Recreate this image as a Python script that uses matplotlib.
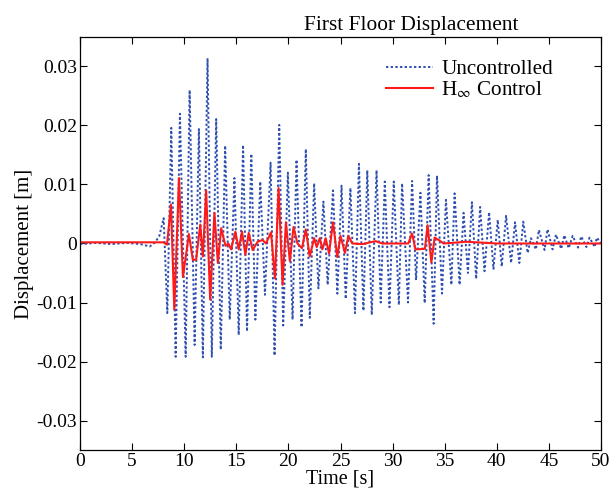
import matplotlib
matplotlib.use("Agg")
import matplotlib.pyplot as plt

# ----------------- Data -----------------
# Uncontrolled response: quiet start, then the peaks / troughs of the oscillation
t_unc = [0.0, 1.5, 3.0, 4.5, 5.8, 6.7, 7.2, 7.6,
         8.03, 8.38, 8.76, 9.18, 9.59, 10.14, 10.52, 11.0, 11.41, 11.79,
         12.24, 12.65, 13.07, 13.51, 13.93, 14.37, 14.82, 15.23, 15.65, 16.03,
         16.44, 16.83, 17.3, 17.75, 18.29, 18.67, 19.12, 19.5, 19.95, 20.4,
         20.78, 21.26, 21.67, 22.05, 22.47, 22.88, 23.36, 23.77, 24.28, 24.7,
         25.1, 25.5, 25.95, 26.39, 26.77, 27.2, 27.57, 28.0, 28.46, 28.86,
         29.25, 29.7, 30.11, 30.6, 30.91, 31.48, 31.87, 32.25, 32.67, 33.08,
         33.46, 33.94, 34.26, 34.74, 35.12, 35.64, 35.95, 36.43, 36.81, 37.23,
         37.61, 38.02, 38.4, 38.82, 39.26, 39.68, 40.09, 40.47, 40.89, 41.37,
         41.75, 42.16, 42.54, 42.96, 43.28, 43.75, 44.04, 44.58, 44.87, 45.35,
         45.68, 46.18, 46.48, 46.9, 47.28, 47.8, 48.1, 48.6, 48.9, 49.4, 49.6, 50.0]
x_unc = [-0.0001, 0.0001, -0.0001, 0.0001, -0.0001, -0.0005, 0.0002, 0.0012,
         0.0043, -0.0118, 0.0196, -0.0192, 0.0220, -0.0192, 0.0260, -0.0172, 0.0194, -0.0193,
         0.0314, -0.0192, 0.0211, -0.0180, 0.0166, -0.0129, 0.0111, -0.0155, 0.0167, -0.0149,
         0.0152, -0.0129, 0.0105, -0.0087, 0.0137, -0.0190, 0.0201, -0.0139, 0.0120, -0.0129,
         0.0142, -0.0142, 0.0160, -0.0126, 0.0102, -0.0076, 0.0071, -0.0070, 0.0090, -0.0085,
         0.0098, -0.0094, 0.0094, -0.0118, 0.0135, -0.0114, 0.0124, -0.0121, 0.0124, -0.0100,
         0.0105, -0.0108, 0.0105, -0.0104, 0.0102, -0.0100, 0.0106, -0.0062, 0.0086, -0.0101,
         0.0116, -0.0136, 0.0115, -0.0085, 0.0074, -0.0070, 0.0085, -0.0070, 0.0052, -0.0050,
         0.0070, -0.0060, 0.0062, -0.0047, 0.0053, -0.0043, 0.0040, -0.0039, 0.0047, -0.0033,
         0.0036, -0.0033, 0.0037, -0.0016, 0.0009, -0.0010, 0.0023, -0.0011, 0.0024, -0.0010,
         0.0015, -0.0009, 0.0014, -0.0008, 0.0013, -0.0007, 0.0012, -0.0006, 0.0010, -0.0006, 0.0010, 0.0]

# H-infinity controlled response
t_hinf = [0.0, 8.0, 8.35, 8.73, 9.05, 9.5, 9.88, 10.45, 10.83, 11.15, 11.54, 11.79,
          12.11, 12.49, 12.9, 13.23, 13.55, 13.96, 14.24, 14.5, 14.91, 15.23, 15.55,
          15.87, 16.19, 16.57, 17.05, 17.52, 17.85, 18.33, 18.71, 19.06, 19.44, 19.76,
          20.14, 20.49, 20.87, 21.3, 21.67, 22.05, 22.47, 22.72, 23.01, 23.26, 23.58,
          23.9, 24.28, 24.69, 25.0, 25.43, 25.75, 26.13, 27.1, 28.37, 29.0, 31.5,
          31.87, 32.19, 33.1, 33.36, 33.72, 34.03, 34.42, 34.9, 37.1, 40.0, 50.0]
x_hinf = [0.0002, 0.0002, -0.0002, 0.0066, -0.0112, 0.0111, -0.0057, 0.0016, -0.0028, -0.0027,
          0.0032, -0.0022, 0.0090, -0.0095, 0.0052, -0.0033, 0.0026, -0.0004, 0.0, -0.0010,
          0.0020, -0.0010, 0.0020, -0.0019, 0.0018, -0.0011, 0.0003, 0.0006, 0.0, 0.0019,
          -0.0059, 0.0094, -0.0070, 0.0036, -0.0030, 0.0028, 0.0, -0.0008, 0.0024, -0.0022,
          0.0009, -0.0006, 0.0009, -0.0010, 0.0009, -0.0017, 0.0036, -0.0023, 0.0013, -0.0016,
          0.0013, 0.0, -0.0001, 0.0004, 0.0, 0.0, 0.0017, -0.0010, -0.0009, 0.0031, -0.0032,
          0.0010, 0.0006, 0.0, 0.0003, 0.0, 0.0]

x_ticks = [0, 5, 10, 15, 20, 25, 30, 35, 40, 45, 50]
y_ticks = [-0.03, -0.02, -0.01, 0, 0.01, 0.02, 0.03]
y_tick_labels = ["-0.03", "-0.02", "-0.01", "0", "0.01", "0.02", "0.03"]

# ----------------- Plot -----------------
plt.rcParams["font.family"] = ["Liberation Serif", "DejaVu Serif"]
plt.rcParams["mathtext.fontset"] = "stix"

fig = plt.figure(figsize=(6.1, 4.95), dpi=100)
ax = fig.add_axes([80 / 610, 45 / 495, 521 / 610, 413 / 495])

ax.plot(t_unc, x_unc, color="#2f4fb0", linestyle=(0, (1.2, 1.2)), linewidth=1.4,
        label="Uncontrolled")
ax.plot(t_hinf, x_hinf, color="#ff1a1a", linestyle="-", linewidth=1.5,
        label=r"H$_{\infty}$ Control")

ax.set_xlim(0, 50)
ax.set_ylim(-0.035, 0.035)
ax.set_xticks(x_ticks)
ax.set_yticks(y_ticks)
ax.set_yticklabels(y_tick_labels)
ax.tick_params(direction="in", top=True, right=True, length=5, width=0.8,
               labelsize=14, pad=2)
for s in ax.spines.values():
    s.set_linewidth(0.9)

ax.set_xlabel("Time [s]", fontsize=14.5, labelpad=0)
ax.set_ylabel("Displacement [m]", fontsize=15, labelpad=2)
ax.set_title("First Floor Displacement", fontsize=15.4, x=0.635, pad=5)

leg = ax.legend(loc="upper left", bbox_to_anchor=(0.588, 0.945), frameon=False,
                fontsize=15.2, handlelength=2.2, labelspacing=0.0, handletextpad=0.4,
                borderpad=0.0, borderaxespad=0.0)

fig.savefig("out.png", dpi=100)
